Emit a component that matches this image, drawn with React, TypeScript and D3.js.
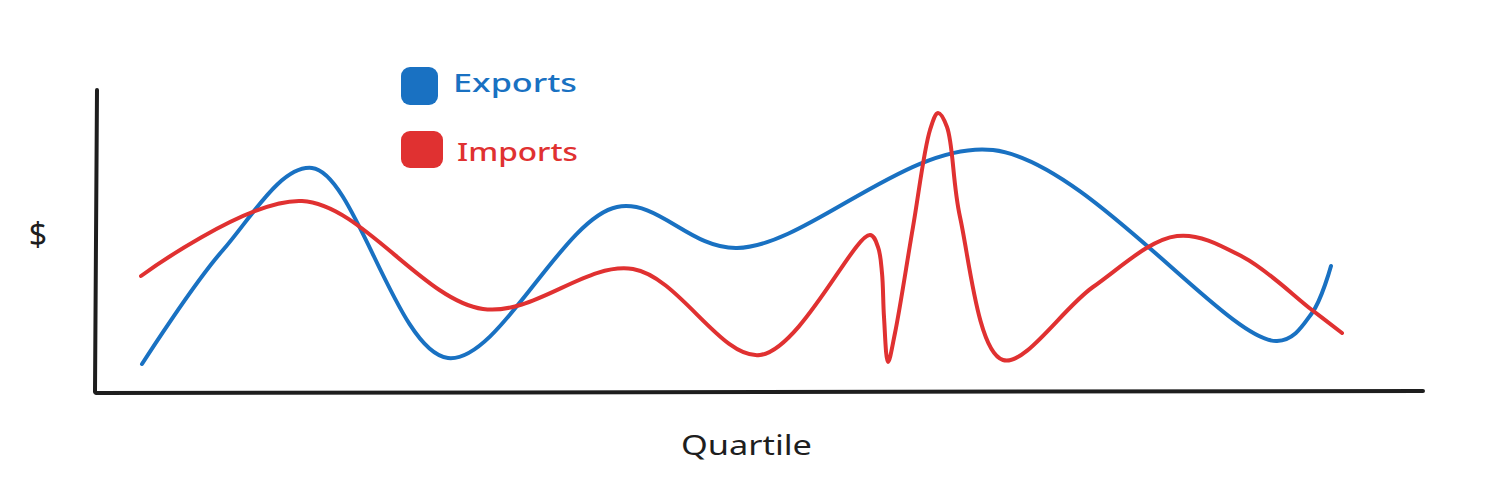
import React from "react";
import * as d3 from "d3";

// Points: position along the quartile axis and $ value
const exportsX = [4.6, 12.7, 21.6, 35.2, 52.1, 64.1, 89.7, 118.1, 121.6, 123.5];
const exportsY = [2.8, 14.2, 22.4, 3.4, 18.5, 14.4, 24.2, 5.1, 7.9, 12.6];

const importsX = [4.5, 20.6, 38.7, 53.7, 66.4, 77.4, 78.2, 78.6, 78.8, 79.2, 79.9, 81.7, 83.4, 84.2, 85.1, 86.4, 90.7, 99.7, 108.1, 114.7, 121.6, 124.6];
const importsY = [11.6, 19.1, 8.3, 12.3, 3.7, 15.7, 14.5, 11.9, 7.5, 3.0, 5.9, 16.5, 26.2, 27.9, 26.5, 17.5, 3.2, 10.5, 15.6, 13.5, 8.2, 5.9];

const xDomain = [0, 132.7];
const yDomain = [0, 30.2];

const seriesNames = ["Exports", "Imports"];
const seriesColors = ["#1971c2", "#e03131"];
const xLabel = "Quartile";
const yLabel = "$";

const W = 1512;
const H = 504;

export default function App() {
  const x = d3.scaleLinear().domain(xDomain).range([96, 1423]);
  const y = d3.scaleLinear().domain(yDomain).range([392, 90]);

  const line = d3
    .line<[number, number]>()
    .x((d) => x(d[0]))
    .y((d) => y(d[1]))
    .curve(d3.curveCatmullRom.alpha(0.5));

  const series = [
    { name: seriesNames[0], color: seriesColors[0], pts: exportsX.map((v, i) => [v, exportsY[i]] as [number, number]) },
    { name: seriesNames[1], color: seriesColors[1], pts: importsX.map((v, i) => [v, importsY[i]] as [number, number]) },
  ];

  const axisLine = d3.line<[number, number]>();
  const yAxisPath = axisLine([
    [x(xDomain[0]) + 1, y(yDomain[1])],
    [x(xDomain[0]) - 1, y(yDomain[0])],
  ]);
  const xAxisPath = axisLine([
    [x(xDomain[0]), y(yDomain[0]) + 1],
    [x(xDomain[1]), y(yDomain[0]) - 1],
  ]);

  const font = "'Noto Sans', 'DejaVu Sans', sans-serif";

  const legend = [
    { sq: [401, 67, 37, 38], tx: 453, ty: 92, len: 124 },
    { sq: [401, 131, 42, 37], tx: 457, ty: 161, len: 121 },
  ];

  return (
    <svg
      width={W}
      height={H}
      viewBox={`0 0 ${W} ${H}`}
      style={{ position: "absolute", left: 0, top: 0, background: "#ffffff" }}
    >
      <rect x={0} y={0} width={W} height={H} fill="#ffffff" />
      <path d={yAxisPath || ""} stroke="#1e1e1e" strokeWidth={4} fill="none" strokeLinecap="round" />
      <path d={xAxisPath || ""} stroke="#1e1e1e" strokeWidth={4} fill="none" strokeLinecap="round" />

      {series.map((s) => (
        <path
          key={s.name}
          d={line(s.pts) || ""}
          stroke={s.color}
          strokeWidth={4}
          fill="none"
          strokeLinecap="round"
          strokeLinejoin="round"
        />
      ))}

      {series.map((s, i) => {
        const l = legend[i];
        return (
          <g key={"lg" + s.name}>
            <rect x={l.sq[0]} y={l.sq[1]} width={l.sq[2]} height={l.sq[3]} rx={9} ry={9} fill={s.color} />
            <text
              x={l.tx}
              y={l.ty}
              fill={s.color}
              fontFamily={font}
              fontSize={25}
              fontWeight={500}
              textLength={l.len}
              lengthAdjust="spacingAndGlyphs"
            >
              {s.name}
            </text>
          </g>
        );
      })}

      <text x={38} y={246} textAnchor="middle" fill="#1e1e1e" fontFamily={font} fontSize={32}>
        {yLabel}
      </text>
      <text
        x={681}
        y={455}
        fill="#1e1e1e"
        fontFamily={font}
        fontSize={27}
        textLength={131}
        lengthAdjust="spacingAndGlyphs"
      >
        {xLabel}
      </text>
    </svg>
  );
}
